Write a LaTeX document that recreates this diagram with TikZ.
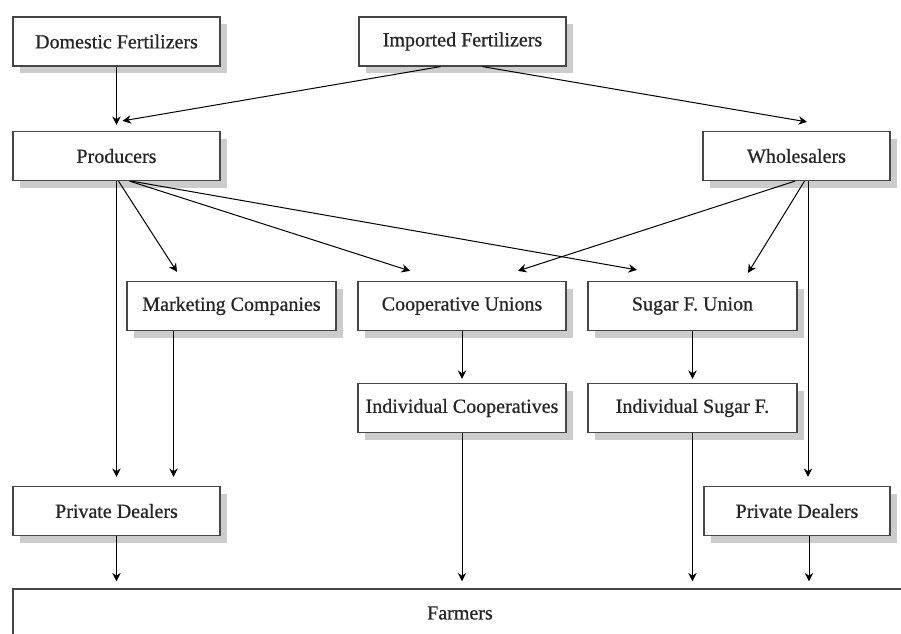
\documentclass[tikz,border=0pt]{standalone}
\usepackage{fontspec}
\setmainfont{Liberation Serif}
\newfontfamily\chartfont[FakeBold=0.7]{Liberation Serif}
\usepackage{xcolor}
\usepackage{tikz}
\usetikzlibrary{positioning, calc, arrows.meta, shadows}
\definecolor{chBorder}{RGB}{70, 70, 70}
\definecolor{chShadow}{RGB}{204, 204, 204}
\tikzset{
    base/.style={
        font=\chartfont\fontsize{20}{24}\selectfont,
        text=black!85,
        align=center
    },
    agent/.style={
        base,
        rectangle,
        draw=chBorder,
        line width=1.2pt,
        fill=white,
        inner sep=0pt,
        minimum height=49pt,
        drop shadow={shadow xshift=7pt, shadow yshift=-7pt, fill=chShadow, opacity=1}
    },
    sink/.style={
        base,
        rectangle,
        draw=chBorder,
        line width=1.2pt,
        fill=white,
        inner sep=0pt,
        minimum height=48pt
    },
    flow/.style={
        -{Stealth[length=8.5pt, width=8.5pt]},
        line width=1pt,
        color=black
    }
}

\begin{document}
\begin{tikzpicture}[x=1pt, y=-1pt]
  \useasboundingbox (0,0) rectangle (901,633);

  % Sources
  \node[agent, minimum width=207pt] (dom) at (116.5,41.5) {Domestic Fertilizers};
  \node[agent, minimum width=207pt] (imp) at (462.5,41.5) {Imported Fertilizers};

  % Distributors
  \node[agent, minimum width=207pt] (prod) at (116.5,156) {Producers};
  \node[agent, minimum width=187pt] (whl) at (796.5,156) {Wholesalers};
  \node[agent, minimum width=209pt] (mkt) at (231.5,306) {Marketing Companies};
  \node[agent, minimum width=208pt] (coop) at (462,306) {Cooperative Unions};
  \node[agent, minimum width=209pt] (sug) at (692.5,306) {Sugar F. Union};
  \node[agent, minimum width=208pt] (icoop) at (462,408) {Individual Cooperatives};
  \node[agent, minimum width=209pt] (isug) at (692.5,408) {Individual Sugar F.};
  \node[agent, minimum width=207pt] (pdl) at (116.5,511) {Private Dealers};
  \node[agent, minimum width=186pt] (pdr) at (797,511) {Private Dealers};

  % End users
  \node[sink, minimum width=894pt] (farm) at (460,613) {Farmers};

  % Upper flows
  \draw[flow] (dom.south) -- ([yshift=6pt]prod.north);
  \draw[flow] ([xshift=-22pt]imp.south) -- ([xshift=6pt, yshift=10pt]prod.north);
  \draw[flow] ([xshift=20pt]imp.south) -- ([xshift=10.5pt, yshift=9pt]whl.north);

  \draw[flow] (prod.south) -- ([yshift=9pt]pdl.north);
  \draw[flow] ([xshift=2pt]prod.south) -- ([xshift=-54.5pt, yshift=9pt]mkt.north);
  \draw[flow] ([xshift=13pt]prod.south) -- ([xshift=-52pt, yshift=10pt]coop.north);
  \draw[flow] ([xshift=15pt]prod.south) -- ([xshift=-55.5pt, yshift=11pt]sug.north);

  \draw[flow] ([xshift=-1.5pt]whl.south) -- ([xshift=56pt, yshift=10pt]coop.north);
  \draw[flow] ([xshift=8pt]whl.south) -- ([xshift=55.5pt, yshift=8pt]sug.north);
  \draw[flow] ([xshift=11.5pt]whl.south) -- ([xshift=11pt, yshift=9pt]pdr.north);

  % Middle flows
  \draw[flow] ([xshift=-58pt]mkt.south) -- ([xshift=57pt, yshift=9pt]pdl.north);
  \draw[flow] (coop.south) -- ([yshift=4pt]icoop.north);
  \draw[flow] (sug.south) -- ([yshift=4pt]isug.north);

  % To farmers
  \draw[flow] (pdl.south) -- ([yshift=7pt]pdl.south |- farm.north);
  \draw[flow] (icoop.south) -- ([yshift=7pt]icoop.south |- farm.north);
  \draw[flow] (isug.south) -- ([yshift=7pt]isug.south |- farm.north);
  \draw[flow] ([xshift=12pt]pdr.south) -- ([xshift=12pt, yshift=7pt]pdr.south |- farm.north);
\end{tikzpicture}
\end{document}
